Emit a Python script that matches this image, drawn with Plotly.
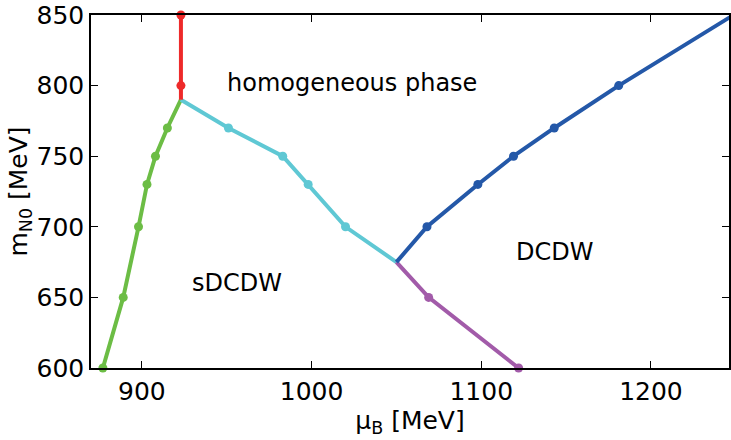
import plotly.graph_objects as go

# boundary lines: mu_B [MeV], m_N0 [MeV]
red_x = [923, 923, 923]
red_y = [850, 800, 790]
red_marker = [True, True, False]

green_x = [877, 889, 898, 903, 908, 915, 923]
green_y = [600, 650, 700, 730, 750, 770, 790]
green_marker = [True, True, True, True, True, True, False]

cyan_x = [923, 951, 983, 998, 1020, 1050]
cyan_y = [790, 770, 750, 730, 700, 675]
cyan_marker = [False, True, True, True, True, False]

blue_x = [1050, 1068, 1098, 1119, 1143, 1181, 1250]
blue_y = [675, 700, 730, 750, 770, 800, 851]
blue_marker = [False, True, True, True, True, True, False]

purple_x = [1050, 1069, 1122]
purple_y = [675, 650, 600]
purple_marker = [False, True, True]

x_ticks = [900, 1000, 1100, 1200]
y_ticks = [600, 650, 700, 750, 800, 850]

region_labels = ["homogeneous phase", "sDCDW", "DCDW"]
region_x = [1024, 956, 1143]
region_y = [802, 660, 682]

series = [
    (green_x, green_y, green_marker, "#6cbd45"),
    (cyan_x, cyan_y, cyan_marker, "#5fc8d4"),
    (purple_x, purple_y, purple_marker, "#a25ba9"),
    (blue_x, blue_y, blue_marker, "#2458a8"),
    (red_x, red_y, red_marker, "#ee2a2a"),
]

FONT = "DejaVu Sans"

fig = go.Figure()
for xs, ys, mk, col in series:
    fig.add_trace(go.Scatter(x=xs, y=ys, mode="lines", line=dict(color=col, width=4),
                             showlegend=False, hoverinfo="skip"))
    fig.add_trace(go.Scatter(x=[a for a, m in zip(xs, mk) if m],
                             y=[b for b, m in zip(ys, mk) if m],
                             mode="markers", marker=dict(color=col, size=9),
                             showlegend=False, cliponaxis=False))

for t, x, y in zip(region_labels, region_x, region_y):
    fig.add_annotation(x=x, y=y, text=t, showarrow=False,
                       font=dict(size=24, color="black", family=FONT))

axis_common = dict(showline=True, linecolor="black", linewidth=1.5, mirror="ticks",
                   ticks="inside", ticklen=7, tickwidth=1.3, tickcolor="black",
                   showgrid=False, zeroline=False,
                   tickfont=dict(size=25, family=FONT, color="black"))

fig.update_xaxes(range=[870, 1246], tickvals=x_ticks,
                 title=dict(text="μ<sub>B</sub> [MeV]", standoff=2,
                            font=dict(size=25, family=FONT, color="black")),
                 **axis_common)
fig.update_yaxes(range=[600, 850], tickvals=y_ticks,
                 title=dict(text="m<sub>N0</sub> [MeV]", standoff=2,
                            font=dict(size=25, family=FONT, color="black")),
                 **axis_common)

fig.update_layout(width=731, height=440, margin=dict(l=91, r=0, t=15, b=72),
                  plot_bgcolor="white", paper_bgcolor="white",
                  font=dict(family=FONT))

fig.write_html("out.html", config={"displayModeBar": False},
               post_script="document.body.style.margin='0px';document.body.style.overflow='hidden';")
